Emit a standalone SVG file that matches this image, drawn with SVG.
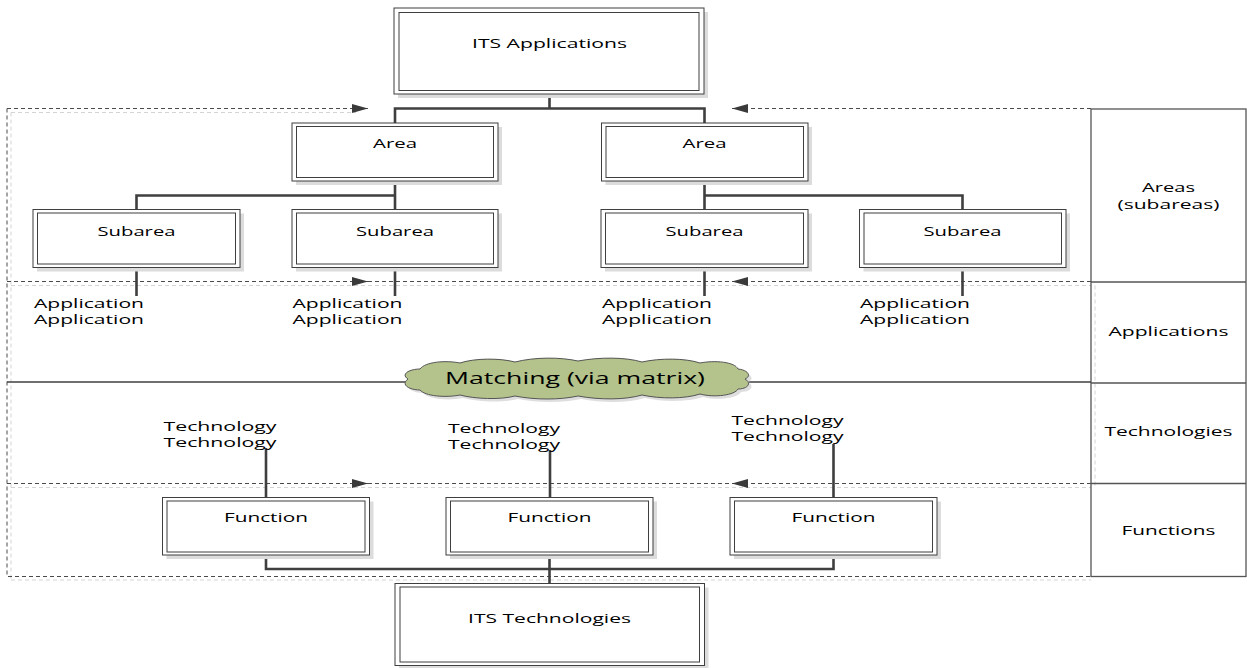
<svg xmlns="http://www.w3.org/2000/svg" width="1247" height="668" viewBox="0 0 1247 668">
  <defs>
    <style>
      .sh{fill:#dcdcdc}
      .bx{fill:#fff;stroke:#3f3f3f;stroke-width:1}
      .in{fill:none;stroke:#3f3f3f;stroke-width:1}
      .t{font-family:"Open Sans","Liberation Sans",sans-serif;font-size:13.5px;fill:#000;text-anchor:middle}
      .ts{font-family:"Open Sans","Liberation Sans",sans-serif;font-size:13.5px;fill:#000;text-anchor:start}
      .conn{fill:none;stroke:#3f3f3f;stroke-width:2.6}
      .dash{fill:none;stroke:#4a4a4a;stroke-width:1;stroke-dasharray:4 3}
      .dsh{fill:none;stroke:#d4d4d4;stroke-width:1;stroke-dasharray:4 3}
      .grid{fill:none;stroke:#555;stroke-width:1.3}
    </style>
    <marker id="arr" markerWidth="16" markerHeight="9" refX="16" refY="4.5" orient="auto" markerUnits="userSpaceOnUse">
      <path d="M0,0 L16,4.5 L0,9 z" fill="#3a3a3a"/>
    </marker>
  </defs>

  <rect width="1247" height="668" fill="#fff"/>

  <!-- dashed frame shadows -->
  <g id="frame-shadow">
    <path class="dsh" d="M11,112.5 V580"/>
    <path class="dsh" d="M11,112.5 H356 M11,285.5 H1091 M11,487.5 H1091 M11,580 H1091 M1095,285.5 V487.5"/>
  </g>

  <!-- dashed frame with direction arrows -->
  <g id="frame">
    <path class="dash" d="M7,108.5 V576.5 H1091"/>
    <path class="dash" d="M7,108.5 H368" marker-end="url(#arr)"/>
    <path class="dash" d="M1091,108.5 H732" marker-end="url(#arr)"/>
    <path class="dash" d="M7,281.5 H368" marker-end="url(#arr)"/>
    <path class="dash" d="M1091,281.5 H732" marker-end="url(#arr)"/>
    <path class="dash" d="M368,281.5 H732"/>
    <path class="dash" d="M7,483.5 H368" marker-end="url(#arr)"/>
    <path class="dash" d="M1091,483.5 H732" marker-end="url(#arr)"/>
    <path class="dash" d="M368,483.5 H732"/>
  </g>

  <!-- layer table on the right -->
  <g id="layers">
    <rect class="grid" x="1091" y="109" width="155" height="467.5"/>
    <path class="grid" d="M1091,282 H1246 M1091,383 H1246 M1091,483.5 H1246"/>
    <text class="t" x="1168.5" y="191.5" textLength="53" lengthAdjust="spacingAndGlyphs">Areas</text>
    <text class="t" x="1168.5" y="208.5" textLength="102" lengthAdjust="spacingAndGlyphs">(subareas)</text>
    <text class="t" x="1168.5" y="336" textLength="120" lengthAdjust="spacingAndGlyphs">Applications</text>
    <text class="t" x="1168.5" y="436" textLength="128" lengthAdjust="spacingAndGlyphs">Technologies</text>
    <text class="t" x="1168.5" y="534.5" textLength="94" lengthAdjust="spacingAndGlyphs">Functions</text>
  </g>

  <!-- matching line and cloud -->
  <g id="matching">
    <path d="M7,382 H1091" stroke="#3f3f3f" stroke-width="1.5" fill="none"/>
    <path transform="translate(3,3)" fill="#dedede" d="M408,379 C400,374 410,369 420,369 C425,362 445,360 460,363 C475,358 500,358 515,362 C535,357 560,357 578,361 C600,357 625,357 642,362 C660,358 685,358 700,363 C715,360 735,362 738,369 C748,370 752,376 745,379 C752,383 748,389 738,389 C735,395 715,398 700,394 C685,399 660,399 642,395 C625,400 600,400 578,396 C560,400 535,400 515,396 C500,400 475,399 460,395 C445,398 425,396 420,390 C410,390 400,385 408,379 Z"/>
    <path fill="#b3c38b" stroke="#555" stroke-width="1" d="M408,379 C400,374 410,369 420,369 C425,362 445,360 460,363 C475,358 500,358 515,362 C535,357 560,357 578,361 C600,357 625,357 642,362 C660,358 685,358 700,363 C715,360 735,362 738,369 C748,370 752,376 745,379 C752,383 748,389 738,389 C735,395 715,398 700,394 C685,399 660,399 642,395 C625,400 600,400 578,396 C560,400 535,400 515,396 C500,400 475,399 460,395 C445,398 425,396 420,390 C410,390 400,385 408,379 Z"/>
    <text class="t" x="575" y="383.5" style="font-size:17px" textLength="260" lengthAdjust="spacingAndGlyphs">Matching (via matrix)</text>
  </g>

  <!-- connectors -->
  <g id="connectors">
    <path class="conn" d="M549.5,94 V108.5 M395,123 V108.5 H704.5 V123"/>
    <path class="conn" d="M395,181 V209.5 M136.5,209.5 V195.5 H395"/>
    <path class="conn" d="M704.5,181 V209.5 M704.5,195.5 H962.5 V209.5"/>
    <path class="conn" d="M136.5,267.5 V296 M395,267.5 V296 M704.5,267.5 V296 M962.5,267.5 V296"/>
    <path class="conn" d="M266,448 V497.5 M550,450 V497.5 M833.5,444 V497.5"/>
    <path class="conn" d="M266,555 V569 H833.5 V555 M549.5,555 V583.5"/>
  </g>

  <!-- nodes -->
  <g id="its-applications">
    <rect class="sh" x="398" y="12" width="310" height="86"/>
    <rect class="bx" x="394" y="8" width="310" height="86"/>
    <rect class="in" x="399" y="12.5" width="300" height="78"/>
    <text class="t" x="549.5" y="48" textLength="155" lengthAdjust="spacingAndGlyphs">ITS Applications</text>
  </g>

  <g id="area-1">
    <rect class="sh" x="296" y="127" width="206" height="58"/>
    <rect class="bx" x="292" y="123" width="206" height="58"/>
    <rect class="in" x="296.5" y="126.5" width="197" height="51"/>
    <text class="t" x="395" y="148" textLength="44" lengthAdjust="spacingAndGlyphs">Area</text>
  </g>
  <g id="area-2">
    <rect class="sh" x="605.5" y="127" width="206.5" height="58"/>
    <rect class="bx" x="601.5" y="123" width="206.5" height="58"/>
    <rect class="in" x="606" y="126.5" width="197.5" height="51"/>
    <text class="t" x="704.5" y="148" textLength="44" lengthAdjust="spacingAndGlyphs">Area</text>
  </g>

  <g id="subarea-1">
    <rect class="sh" x="37" y="213.5" width="207" height="58"/>
    <rect class="bx" x="33" y="209.5" width="207" height="58"/>
    <rect class="in" x="37.5" y="213" width="198" height="51"/>
    <text class="t" x="136.5" y="235.5" textLength="78" lengthAdjust="spacingAndGlyphs">Subarea</text>
  </g>
  <g id="subarea-2">
    <rect class="sh" x="296" y="213.5" width="206" height="58"/>
    <rect class="bx" x="292" y="209.5" width="206" height="58"/>
    <rect class="in" x="296.5" y="213" width="197" height="51"/>
    <text class="t" x="395" y="235.5" textLength="78" lengthAdjust="spacingAndGlyphs">Subarea</text>
  </g>
  <g id="subarea-3">
    <rect class="sh" x="605" y="213.5" width="207" height="58"/>
    <rect class="bx" x="601" y="209.5" width="207" height="58"/>
    <rect class="in" x="605.5" y="213" width="198" height="51"/>
    <text class="t" x="704.5" y="235.5" textLength="78" lengthAdjust="spacingAndGlyphs">Subarea</text>
  </g>
  <g id="subarea-4">
    <rect class="sh" x="863.5" y="213.5" width="206.5" height="58"/>
    <rect class="bx" x="859.5" y="209.5" width="206.5" height="58"/>
    <rect class="in" x="864" y="213" width="197.5" height="51"/>
    <text class="t" x="962.5" y="235.5" textLength="78" lengthAdjust="spacingAndGlyphs">Subarea</text>
  </g>

  <g id="applications-1">
    <text class="ts" x="34" y="307.5" textLength="110" lengthAdjust="spacingAndGlyphs">Application</text>
    <text class="ts" x="34" y="323.5" textLength="110" lengthAdjust="spacingAndGlyphs">Application</text>
  </g>
  <g id="applications-2">
    <text class="ts" x="292.5" y="307.5" textLength="110" lengthAdjust="spacingAndGlyphs">Application</text>
    <text class="ts" x="292.5" y="323.5" textLength="110" lengthAdjust="spacingAndGlyphs">Application</text>
  </g>
  <g id="applications-3">
    <text class="ts" x="602" y="307.5" textLength="110" lengthAdjust="spacingAndGlyphs">Application</text>
    <text class="ts" x="602" y="323.5" textLength="110" lengthAdjust="spacingAndGlyphs">Application</text>
  </g>
  <g id="applications-4">
    <text class="ts" x="860" y="307.5" textLength="110" lengthAdjust="spacingAndGlyphs">Application</text>
    <text class="ts" x="860" y="323.5" textLength="110" lengthAdjust="spacingAndGlyphs">Application</text>
  </g>

  <g id="technologies-1">
    <text class="ts" x="163.5" y="430.5" textLength="113" lengthAdjust="spacingAndGlyphs">Technology</text>
    <text class="ts" x="163.5" y="446.5" textLength="113" lengthAdjust="spacingAndGlyphs">Technology</text>
  </g>
  <g id="technologies-2">
    <text class="ts" x="448" y="432.5" textLength="112" lengthAdjust="spacingAndGlyphs">Technology</text>
    <text class="ts" x="448" y="448.5" textLength="112" lengthAdjust="spacingAndGlyphs">Technology</text>
  </g>
  <g id="technologies-3">
    <text class="ts" x="731.5" y="425" textLength="112" lengthAdjust="spacingAndGlyphs">Technology</text>
    <text class="ts" x="731.5" y="441" textLength="112" lengthAdjust="spacingAndGlyphs">Technology</text>
  </g>

  <g id="function-1">
    <rect class="sh" x="166.5" y="501.5" width="207" height="57.5"/>
    <rect class="bx" x="162.5" y="497.5" width="207" height="57.5"/>
    <rect class="in" x="167" y="501" width="198" height="51"/>
    <text class="t" x="266" y="522" textLength="84" lengthAdjust="spacingAndGlyphs">Function</text>
  </g>
  <g id="function-2">
    <rect class="sh" x="450" y="501.5" width="207" height="57.5"/>
    <rect class="bx" x="446" y="497.5" width="207" height="57.5"/>
    <rect class="in" x="450.5" y="501" width="198" height="51"/>
    <text class="t" x="549.5" y="522" textLength="84" lengthAdjust="spacingAndGlyphs">Function</text>
  </g>
  <g id="function-3">
    <rect class="sh" x="734" y="501.5" width="207" height="57.5"/>
    <rect class="bx" x="730" y="497.5" width="207" height="57.5"/>
    <rect class="in" x="734.5" y="501" width="198" height="51"/>
    <text class="t" x="833.5" y="522" textLength="84" lengthAdjust="spacingAndGlyphs">Function</text>
  </g>

  <g id="its-technologies">
    <rect class="sh" x="399" y="587.5" width="309.5" height="82"/>
    <rect class="bx" x="395" y="583.5" width="309.5" height="82"/>
    <rect class="in" x="400" y="587" width="299.5" height="75"/>
    <text class="t" x="549.5" y="623" textLength="163" lengthAdjust="spacingAndGlyphs">ITS Technologies</text>
  </g>
</svg>
